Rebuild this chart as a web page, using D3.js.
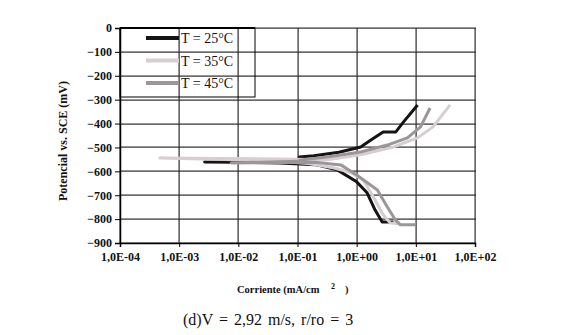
<!DOCTYPE html>
<html><head><meta charset="utf-8">
<script src="https://cdn.jsdelivr.net/npm/d3@7"></script>
<style>body{margin:0;background:#fff}svg{display:block}</style>
</head><body>
<script>
// ---- data ----
const xTickValues = [1e-4, 1e-3, 1e-2, 1e-1, 1e0, 1e1, 1e2];
const xTickLabels = ["1,0E-04","1,0E-03","1,0E-02","1,0E-01","1,0E+00","1,0E+01","1,0E+02"];
const yTickValues = [0,-100,-200,-300,-400,-500,-600,-700,-800,-900];
const seriesNames = ["T = 25°C","T = 35°C","T = 45°C"];
// current (mA/cm2) and potential (mV) along each curve: cathodic end -> Ecorr -> anodic end
const current25 = [4.2,2.7,2.05,1.5,1.0,0.47,0.2,0.05,0.01,0.0027,0.03,0.1,0.107,0.19,0.5,1.17,1.74,2.8,4.6,6.2,10.7];
const potential25 = [-812,-812,-762,-690,-644,-594,-572,-565,-562,-561,-560,-558,-540,-535,-520,-498,-469,-435,-435,-393,-322];
const current35 = [5.0,3.7,2.8,2.05,1.3,0.8,0.4,0.15,0.04,0.00047,0.05,0.32,1.17,4.2,10.7,19.5,38];
const potential35 = [-818,-816,-782,-720,-636,-605,-585,-567,-556,-544,-548,-552,-531,-498,-460,-414,-322];
const current45 = [9.8,5.5,4.5,3.3,2.24,1.0,0.54,0.2,0.0076,0.1,0.115,0.32,1.17,3.3,7.2,12,17.4];
const potential45 = [-824,-824,-803,-749,-678,-615,-573,-562,-565,-558,-552,-540,-519,-490,-460,-414,-335];
const seriesColors = ["#141414","#d6ced2","#9a9699"];

const W=564,H=335;
const svg=d3.select("body").append("svg").attr("width",W).attr("height",H);
const x=d3.scaleLog().domain([1e-4,1e2]).range([120,475]);
const y=d3.scaleLinear().domain([-900,0]).range([243,28]);
const serif="'Liberation Serif','Times New Roman',serif";

// grid drawn as thin rectangles
svg.append("g").selectAll("rect").data(yTickValues).join("rect")
  .attr("x",x(1e-4)).attr("width",x(1e2)-x(1e-4)+1).attr("y",d=>Math.round(y(d))-0.5).attr("height",1.2)
  .attr("fill","#2e2a2c");
svg.append("g").selectAll("rect").data(xTickValues).join("rect")
  .attr("x",d=>Math.round(x(d))-0.5).attr("width",1.2).attr("y",y(0)).attr("height",y(-900)-y(0))
  .attr("fill","#2e2a2c");

// axes
const yAxis=d3.axisLeft(y).tickValues(yTickValues).tickSize(5).tickFormat(d3.format("d"));
const ya=svg.append("g").attr("transform",`translate(${x(1e-4)},0)`).call(yAxis);
ya.select(".domain").attr("stroke","#000").attr("stroke-width",1.5);
ya.selectAll("text").attr("font-family",serif).attr("font-weight","bold").attr("font-size",12).attr("fill","#111").attr("x",-8);
const xAxis=d3.axisBottom(x).tickValues(xTickValues).tickSize(4).tickFormat((d,i)=>xTickLabels[i]);
const xa=svg.append("g").attr("transform",`translate(0,${y(-900)})`).call(xAxis);
xa.select(".domain").attr("stroke","#000").attr("stroke-width",1.5);
xa.selectAll("text").attr("font-family",serif).attr("font-weight","bold").attr("font-size",12).attr("fill","#111").attr("y",9);

// curves
const series=[[current25,potential25],[current35,potential35],[current45,potential45]];
const lineGen=d3.line().x(d=>x(d[0])).y(d=>y(d[1]));
series.forEach((s,i)=>{
  const pts=s[0].map((c,j)=>[c,s[1][j]]);
  svg.append("path").datum(pts).attr("d",lineGen).attr("fill","none")
   .attr("stroke",seriesColors[i]).attr("stroke-width",3).attr("stroke-linejoin","round");
});

// legend
svg.append("rect").attr("x",120).attr("y",28).attr("width",135).attr("height",69)
 .attr("fill","none").attr("stroke","#000").attr("stroke-width",1);
svg.append("line").attr("x1",120).attr("x2",255).attr("y1",28).attr("y2",28).attr("stroke","#000").attr("stroke-width",2);
seriesNames.forEach((n,i)=>{
  const yy=38+i*22.5;
  svg.append("line").attr("x1",146).attr("x2",179).attr("y1",yy).attr("y2",yy)
   .attr("stroke",seriesColors[i]).attr("stroke-width",4);
  svg.append("text").attr("x",181).attr("y",yy+5).text(n)
   .attr("font-family",serif).attr("font-size",14).attr("fill","#111");
});

// titles
svg.append("text").attr("transform","translate(67,141) rotate(-90)").attr("text-anchor","middle")
 .attr("font-family",serif).attr("font-weight","bold").attr("font-size",12).attr("fill","#111")
 .text("Potencial vs. SCE (mV)");
const xt=svg.append("text").attr("x",237).attr("y",293)
 .attr("font-family",serif).attr("font-weight","bold").attr("font-size",10.5).attr("fill","#111");
xt.append("tspan").text("Corriente (mA/cm");
xt.append("tspan").attr("x",331).attr("dy",-4).attr("font-size",8).text("2");
xt.append("tspan").attr("x",345).attr("dy",4).text(")");
svg.append("text").attr("x",183).attr("y",325)
 .attr("font-family",serif).attr("font-size",16).attr("word-spacing",2).attr("fill","#111")
 .text("(d)V = 2,92 m/s, r/ro = 3");
</script>
</body></html>
